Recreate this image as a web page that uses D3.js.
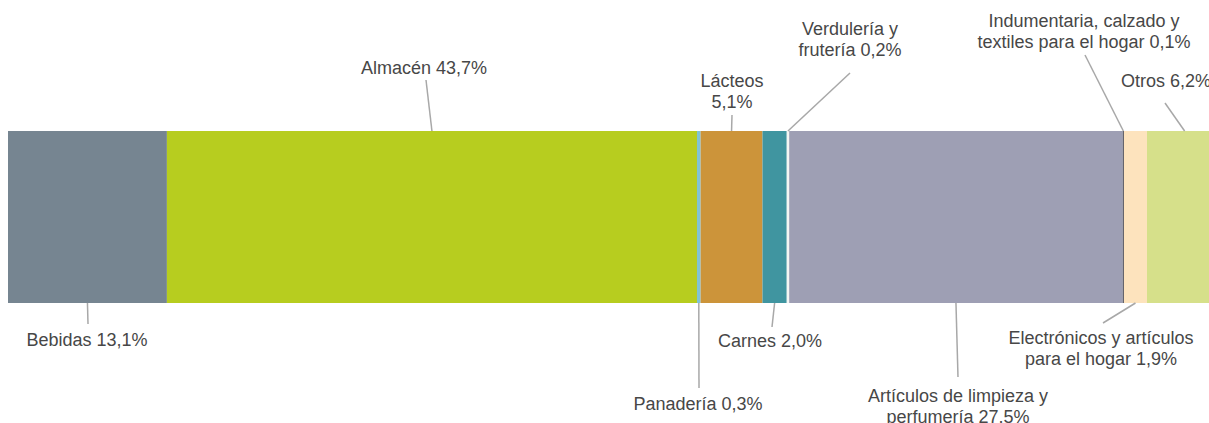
<!DOCTYPE html>
<html>
<head>
<meta charset="utf-8">
<script src="https://cdn.jsdelivr.net/npm/d3@7"></script>
<style>
  body { margin: 0; background: #fff; }
  #graf { width: 1209px; height: 423px; overflow: hidden; }
</style>
</head>
<body>
<div id="graf"></div>
<script>
// Composición de ventas por rubro (barra apilada al 100%)

rubros  = ['Bebidas', 'Almacén', 'Panadería', 'Lácteos', 'Carnes', 'Verdulería y frutería',
           'Artículos de limpieza y perfumería', 'Indumentaria, calzado y textiles para el hogar',
           'Electrónicos y artículos para el hogar', 'Otros']
valores = [13.1, 43.7, 0.3, 5.1, 2.0, 0.2, 27.5, 0.1, 1.9, 6.2]
etiquetas = [
  ['Bebidas 13,1%'],
  ['Almacén 43,7%'],
  ['Panadería 0,3%'],
  ['Lácteos', '5,1%'],
  ['Carnes 2,0%'],
  ['Verdulería y', 'frutería 0,2%'],
  ['Artículos de limpieza y', 'perfumería 27,5%'],
  ['Indumentaria, calzado y', 'textiles para el hogar 0,1%'],
  ['Electrónicos y artículos', 'para el hogar 1,9%'],
  ['Otros 6,2%']
]
colores = ['#768591', '#b7cd1f', '#80c3d6', '#cc943a', '#4095a0', '#f4f6f3',
           '#9e9fb4', '#5a5a64', '#fde3bd', '#d6e08a']

// Ubicación de cada etiqueta: extremo de la guía (gx, gy), centro del texto y líneas base
ubic = [
  { gx: 88,   gy: 324, tx: 87,   ty: [346] },
  { gx: 426,  gy: 80,  tx: 424,  ty: [74] },
  { gx: 699,  gy: 388, tx: 698,  ty: [410] },
  { gx: 732,  gy: 115, tx: 732,  ty: [87, 108] },
  { gx: 772,  gy: 327, tx: 770,  ty: [347] },
  { gx: 850,  gy: 73,  tx: 850,  ty: [35, 56] },
  { gx: 958,  gy: 377, tx: 958,  ty: [402, 423] },
  { gx: 1085, gy: 55,  tx: 1084, ty: [27, 48] },
  { gx: 1103, gy: 323, tx: 1101, ty: [344, 365] },
  { gx: 1165, gy: 103, tx: 1166, ty: [87] }
]

ancho_total = 1209
alto_total  = 423
barra = { left: 8, top: 131, bottom: 303 }

svg = d3.select('#graf').append('svg')
        .attr('width', ancho_total)
        .attr('height', alto_total)

// Acumulados para apilar
datos = []
acum = 0
valores.forEach((v, i) => {
  datos.push({ rubro: rubros[i], v: v, x0: acum, x1: acum + v, i: i })
  acum += v
})

x = d3.scaleLinear().domain([0, 100]).range([barra.left, barra.left + 1213])
color = d3.scaleOrdinal().domain(rubros).range(colores)

g = svg.append('g')

g.selectAll('rect')
  .data(datos)
  .enter()
  .append('rect')
    .attr('x', d => x(d.x0))
    .attr('y', barra.top)
    .attr('width', d => x(d.x1) - x(d.x0))
    .attr('height', barra.bottom - barra.top)
    .attr('fill', d => color(d.rubro))

// Guías
g.selectAll('line.guia')
  .data(datos)
  .enter()
  .append('line')
    .attr('class', 'guia')
    .attr('x1', d => x((d.x0 + d.x1) / 2))
    .attr('y1', d => ubic[d.i].gy < barra.top ? barra.top : barra.bottom)
    .attr('x2', d => ubic[d.i].gx)
    .attr('y2', d => ubic[d.i].gy)
    .attr('stroke', '#a8a8a8')
    .attr('stroke-width', 1.5)

// Textos
t = g.selectAll('text.etq')
  .data(datos)
  .enter()
  .append('text')
    .attr('class', 'etq')
    .attr('text-anchor', 'middle')
    .attr('font-family', 'Liberation Sans, Arial, sans-serif')
    .attr('font-size', '18px')
    .attr('fill', '#474747')

t.selectAll('tspan')
  .data(d => etiquetas[d.i].map((s, k) => ({ s: s, x: ubic[d.i].tx, y: ubic[d.i].ty[k] })))
  .enter()
  .append('tspan')
    .attr('x', d => d.x)
    .attr('y', d => d.y)
    .text(d => d.s)
</script>
</body>
</html>
